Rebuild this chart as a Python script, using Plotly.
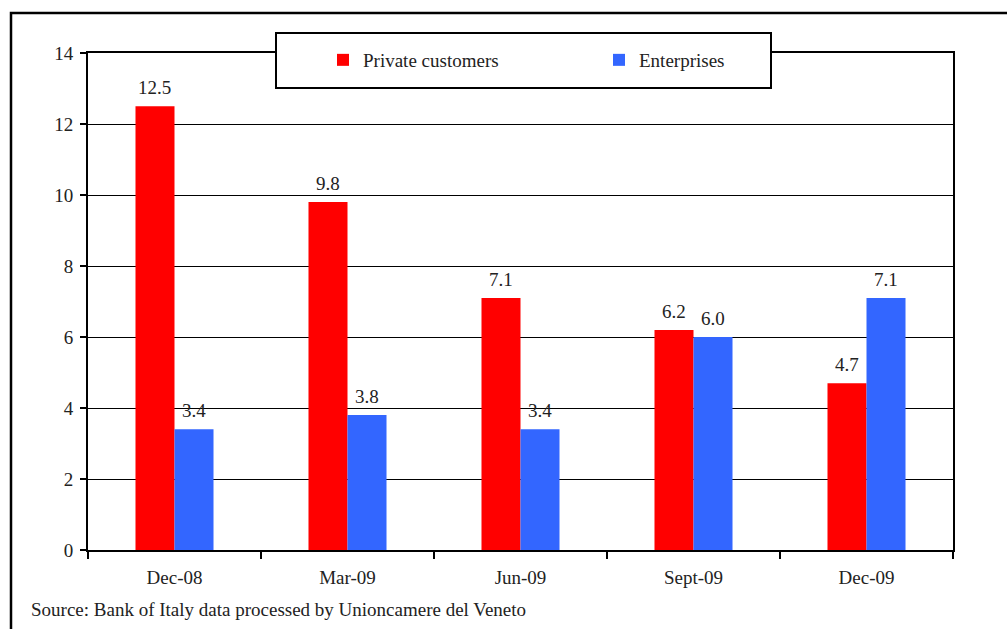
import plotly.graph_objects as go

categories = ["Dec-08", "Mar-09", "Jun-09", "Sept-09", "Dec-09"]
private_customers = [12.5, 9.8, 7.1, 6.2, 4.7]
enterprises = [3.4, 3.8, 3.4, 6.0, 7.1]
y_ticks = [0, 2, 4, 6, 8, 10, 12, 14]
source_text = "Source: Bank of Italy data processed by Unioncamere del Veneto"

FONT = "Liberation Serif"
TXT = "#222222"
FS = 19

W, H = 1007, 629
L, R, T, B = 88, 1007 - 953, 53, 629 - 550
PW, PH = W - L - R, H - T - B
BARGAP = 0.549
BAR_PX = PW / len(categories) * (1 - BARGAP) / 2

def px(x):
    return (x - L) / PW

def py(y):
    return (H - B - y) / PH

fig = go.Figure()
fig.add_trace(go.Bar(
    x=categories, y=private_customers, name="Private customers",
    marker=dict(color="#FF0000", line=dict(width=0)),
))
fig.add_trace(go.Bar(
    x=categories, y=enterprises, name="Enterprises",
    marker=dict(color="#3366FF", line=dict(width=0)),
))

annotations = []
for series, shift in ((private_customers, -BAR_PX / 2), (enterprises, BAR_PX / 2)):
    for c, v in zip(categories, series):
        annotations.append(dict(
            x=c, y=v, xref="x", yref="y", text=f"{v:.1f}", showarrow=False,
            xshift=shift, yshift=6, xanchor="center", yanchor="bottom",
            font=dict(family=FONT, size=FS, color=TXT),
        ))
annotations.append(dict(
    text=source_text, xref="paper", yref="paper", x=px(29), y=py(609),
    xanchor="left", yanchor="middle", showarrow=False,
    font=dict(family=FONT, size=FS, color=TXT),
))

fig.update_layout(
    width=W, height=H,
    margin=dict(l=L, r=R, t=T, b=B),
    paper_bgcolor="white", plot_bgcolor="white",
    barmode="group", bargap=BARGAP, bargroupgap=0,
    font=dict(family=FONT, size=FS, color=TXT),
    showlegend=True,
    legend=dict(
        orientation="h", x=px(323), xanchor="left", y=py(60), yanchor="middle",
        bgcolor="rgba(0,0,0,0)", borderwidth=0,
        font=dict(family=FONT, size=FS, color=TXT),
        entrywidth=231, entrywidthmode="pixels",
    ),
    xaxis=dict(
        showline=True, linecolor="black", linewidth=2, mirror=True,
        ticks="outside", tickson="boundaries", ticklen=7, tickcolor="black", tickwidth=1.5,
        ticklabelstandoff=9,
        showgrid=False, tickfont=dict(family=FONT, size=FS, color=TXT),
    ),
    yaxis=dict(
        range=[0, 14], tickvals=y_ticks, ticktext=[str(v) for v in y_ticks],
        showline=True, linecolor="black", linewidth=2, mirror=True,
        ticks="outside", ticklen=6, tickcolor="black", tickwidth=1.5,
        ticklabelstandoff=3,
        showgrid=True, gridcolor="black", gridwidth=1.2, zeroline=False,
        tickfont=dict(family=FONT, size=FS, color=TXT),
    ),
    shapes=[
        dict(type="rect", xref="paper", yref="paper",
             x0=px(11), x1=px(1015), y0=py(13), y1=py(640),
             line=dict(color="black", width=2.5), fillcolor="rgba(0,0,0,0)", layer="above"),
        dict(type="rect", xref="paper", yref="paper",
             x0=px(276), x1=px(771), y0=py(33), y1=py(88),
             line=dict(color="black", width=2), fillcolor="white", layer="above"),
    ],
    annotations=annotations,
)

fig.write_html("out.html")
